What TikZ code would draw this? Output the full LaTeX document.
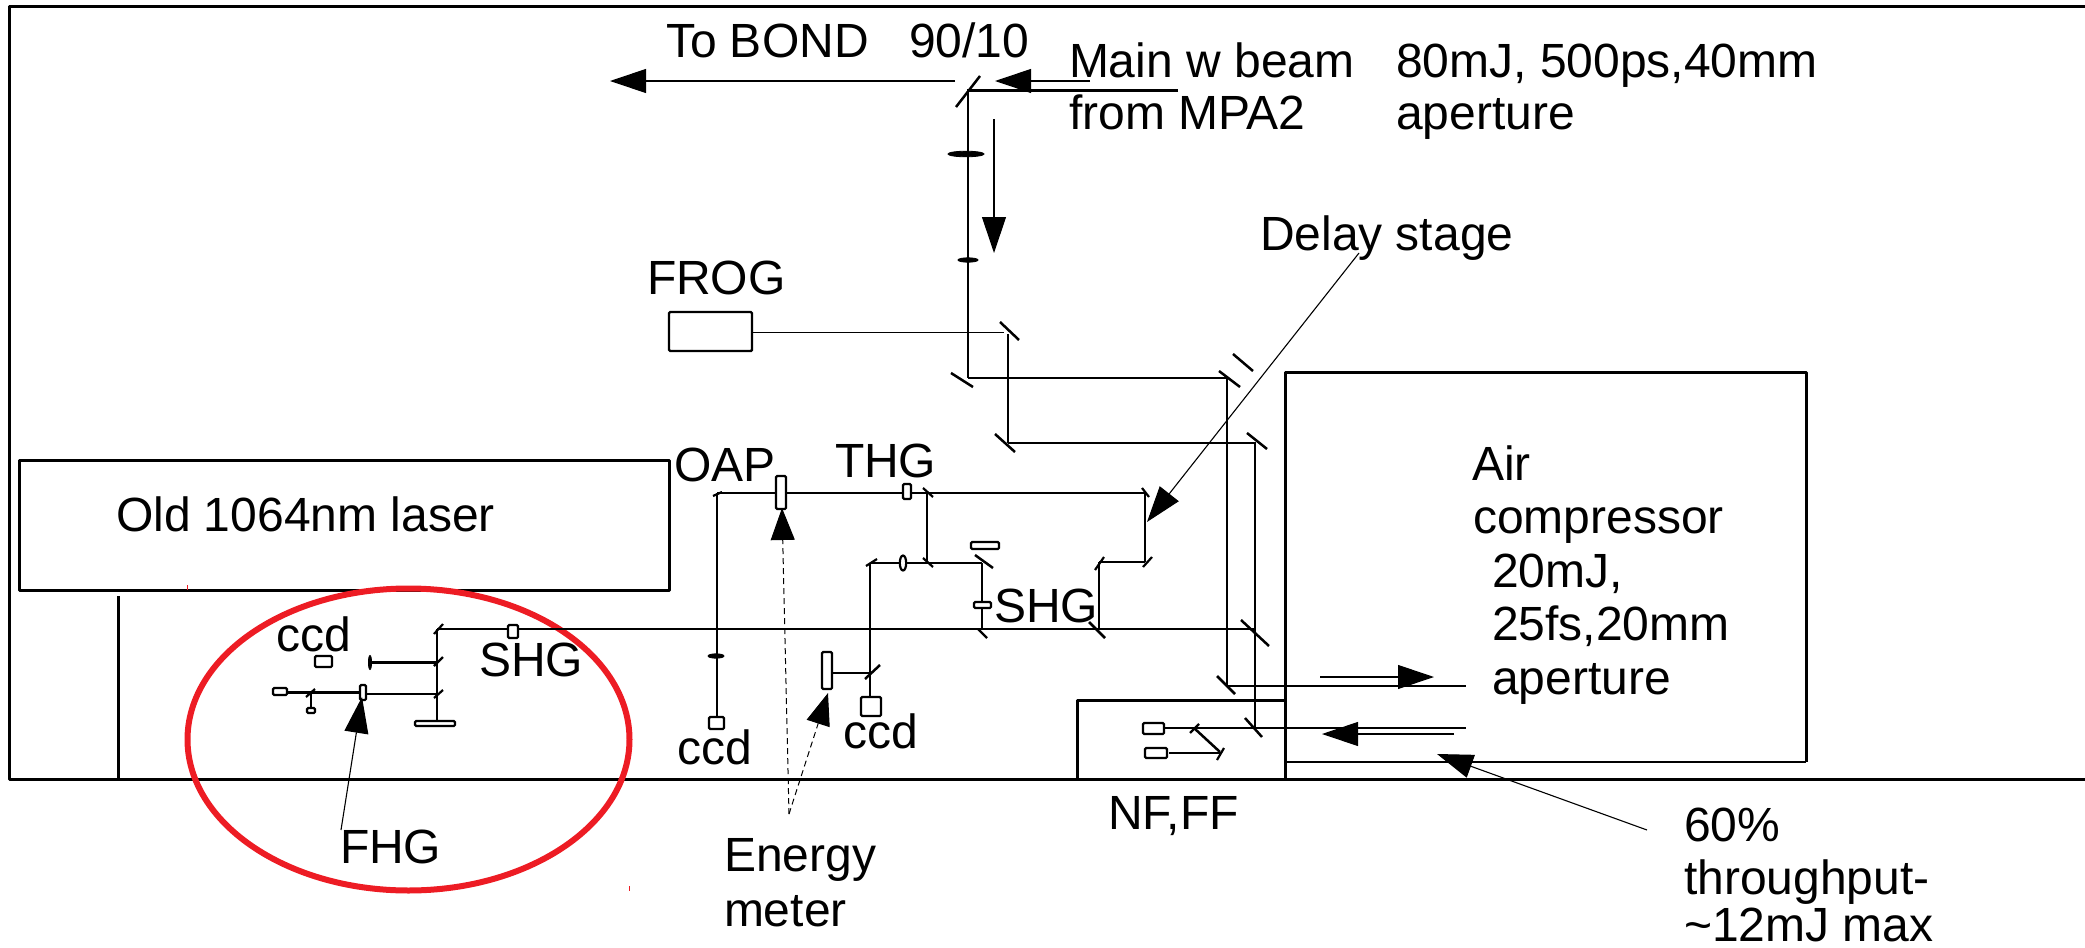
\documentclass[tikz,border=0pt]{standalone}
\usepackage{fontspec}
\setmainfont{Liberation Sans}
\usetikzlibrary{arrows.meta}
\definecolor{ringred}{HTML}{ED1C24}
\tikzset{
  lbl/.style={inner sep=0pt,outer sep=0pt,anchor=base west,font=\fontsize{24}{27}\selectfont},
  wall/.style={line width=1.5pt,line join=round,black},
  beamthick/.style={line width=1.45pt,black},
  beamthin/.style={line width=0.95pt,black},
  hair/.style={line width=0.55pt,black},
  mirror/.style={line width=1.25pt,black},
  tick/.style={line width=1.1pt,black},
  optic/.style={line width=1.1pt,draw=black,fill=white,rounded corners=0.6pt},
  lensf/.style={fill=black,draw=black,line width=0.4pt},
  bigtip/.style={-{Triangle[length=18pt,width=12pt]}},
  note/.style={hair,bigtip},
  dashnote/.style={line width=0.5pt,dash pattern=on 3pt off 2pt,black,-{Triangle[length=16pt,width=12pt]}}
}
\begin{document}
\begin{tikzpicture}[x=0.5pt,y=-0.5pt]
\useasboundingbox (0,0) rectangle (2085,948);

% frame and boxes
\draw[wall] (2085,6) -- (9,6) -- (9,779.5) -- (2085,779.5);
\draw[wall] (19,460) rectangle (669,590);
\draw[wall] (118,596) -- (118,779.5);
\draw[wall] (1077,779.5) -- (1077,700) -- (1285,700);
\draw[wall] (1285,779.5) -- (1285,372) -- (1806,372) -- (1806,762);
\draw[beamthin] (1806,762) -- (1285,762);

% red marks
\draw[ringred,line width=3pt] (408.5,739.5) ellipse [x radius=221,y radius=151];
\draw[ringred,line width=0.5pt] (187,585) -- (187,590);
\draw[ringred,line width=0.5pt] (629,886) -- (629,891);

% main beam
\draw[beamthick] (1178,90.5) -- (968,90.5) -- (968,378);
\draw[mirror] (956,107) -- (980,76);
\draw[lensf] (966,154) ellipse [x radius=18,y radius=2.8];
\draw[lensf] (968,260) ellipse [x radius=10,y radius=2.2];
\draw[note] (955,81) -- (610,81);
\draw[note] (1090,81) -- (995,81);
\draw[note] (994,119) -- (994,253);

% FROG
\draw[line width=1.2pt,rounded corners=0.6pt] (669,312) rectangle (752,351);
\draw[beamthin] (752,332.5) -- (1004,332.5);
\draw[mirror] (1000,322) -- (1019,340);
\draw[beamthin] (1008,334) -- (1008,443);

% second branch
\draw[mirror] (951,373) -- (973,387);
\draw[beamthin] (968,378) -- (1227,378) -- (1227,686) -- (1466,686);
\draw[mirror] (1219,371) -- (1240,387);
\draw[mirror] (1233,354) -- (1253,371);
\draw[mirror] (1217,676) -- (1235,694);

% thick delay branch
\draw[mirror] (995,434) -- (1015,452);
\draw[beamthick] (1008,443) -- (1255,443) -- (1255,728);
\draw[mirror] (1247,433) -- (1267,449);
\draw[mirror] (1241,620) -- (1269,646);
\draw[mirror] (1245,718) -- (1262,737);
\draw[beamthick] (437,629) -- (1255,629);

% NF,FF
\draw[beamthin] (1164,728) -- (1466,728);
\draw[hair] (1454,734) -- (1354,734);
\draw[hair,bigtip] (1380,734) -- (1322,734);
\draw[hair,bigtip] (1320,677) -- (1434,677);
\draw[optic] (1143,723) rectangle (1164,734);
\draw[optic] (1145,748) rectangle (1167,758);
\draw[beamthin] (1169,753) -- (1221,753);
\draw[mirror] (1194,728) -- (1220,752);
\draw[tick] (1190,733) -- (1199,724);
\draw[tick] (1217,760) -- (1224,748);

% air compressor output note
\draw[note] (1647,830) -- (1437,754);

% upper harmonic line
\draw[beamthick] (717,493) -- (1098,493);
\draw[beamthin] (1098,493) -- (1145,493) -- (1145,562);
\draw[beamthick] (1145,562) -- (1099,562);
\draw[beamthin] (1099,562) -- (1099,629);
\draw[tick] (1142,488) -- (1149,497);
\draw[tick] (1143,567) -- (1152,557);
\draw[tick] (1095,570) -- (1104,557);
\draw[mirror] (1089,622) -- (1105,638);
\draw[optic] (776,476) rectangle (786,509);
\draw[optic] (903,484) rectangle (911,499);
\draw[tick] (713,496) -- (722,492);

% ccd line at left of OAP
\draw[beamthin] (717,493) -- (717,717);
\draw[lensf] (716,656) ellipse [x radius=8,y radius=2.2];
\draw[optic] (709,717) rectangle (724,729);

% SHG sub-branch
\draw[tick] (923,488) -- (933,497);
\draw[beamthin] (927,493) -- (927,563);
\draw[tick] (923,558) -- (933,567);
\draw[beamthin] (870,563) -- (982,563);
\draw[optic] (903,563) ellipse [x radius=3.2,y radius=7.5];
\draw[mirror] (975,555) -- (993,568);
\draw[optic] (971,542) rectangle (999,549);
\draw[beamthick] (982,563) -- (982,629);
\draw[optic] (974,602) rectangle (991,608);
\draw[tick] (978,629) -- (987,638);
\draw[tick] (866,566) -- (877,559);
\draw[beamthin] (870,563) -- (870,697);
\draw[mirror] (865,679) -- (880,665);
\draw[beamthick] (832,673) -- (870,673);
\draw[optic] (822,652) rectangle (832,689);
\draw[optic] (861,697) rectangle (881,716);

% FHG area
\draw[beamthin] (437,629) -- (437,721);
\draw[tick] (434,634) -- (443,624);
\draw[optic] (508,625) rectangle (518,638);
\draw[beamthick] (370,662.5) -- (437,662.5);
\draw[tick] (434,666) -- (443,657);
\draw[lensf] (370,662.5) ellipse [x radius=1.6,y radius=7];
\draw[beamthick] (287,692.5) -- (360,692.5);
\draw[beamthick] (366,694) -- (437,694);
\draw[tick] (434,698) -- (443,690);
\draw[optic] (415,721) rectangle (455,726);
\draw[optic] (360,685) rectangle (366,700);
\draw[optic] (273,688) rectangle (287,695);
\draw[tick] (306,697) -- (315,689);
\draw[beamthin] (311,693) -- (311,709);
\draw[optic] (307,708) rectangle (315,713);
\draw[optic] (315,656) rectangle (332,667);
\draw[note] (341,830) -- (362,697);

% annotations
\draw[note] (1359,253) -- (1147,522);
\draw[dashnote] (789,814) -- (782,508);
\draw[dashnote] (789,814) -- (828,693);

% labels
\node[lbl] (tobond) at (666,57) {To BOND};
\node[lbl] (split) at (909,57) {90/10};
\node[lbl] (main1) at (1069,77) {Main w beam};
\node[lbl] (main2) at (1069,129) {from MPA2};
\node[lbl] (spec1) at (1396,77) {80mJ, 500ps,40mm};
\node[lbl] (spec2) at (1396,129) {aperture};
\node[lbl] (delay) at (1260,250) {Delay stage};
\node[lbl] (frog) at (647,294) {FROG};
\node[lbl] (oap) at (674,481) {OAP};
\node[lbl] (thg) at (835,477) {THG};
\node[lbl] (old) at (116,531) {Old 1064nm laser};
\node[lbl] (air1) at (1472,480) {Air};
\node[lbl] (air2) at (1473,533.5) {compressor};
\node[lbl] (air3) at (1492,587) {20mJ,};
\node[lbl] (air4) at (1492,640.5) {25fs,20mm};
\node[lbl] (air5) at (1492,694) {aperture};
\node[lbl] (shgm) at (994,622) {SHG};
\node[lbl] (shgl) at (479,676) {SHG};
\node[lbl] (ccda) at (276,651) {ccd};
\node[lbl] (fhg) at (340,863) {FHG};
\node[lbl] (ccdb) at (677,764) {ccd};
\node[lbl] (ccdc) at (843,748) {ccd};
\node[lbl] (nff) at (1108,829) {NF,FF};
\node[lbl] (en1) at (724,871) {Energy};
\node[lbl] (en2) at (724,926) {meter};
\node[lbl] (tp1) at (1684,841) {60\%};
\node[lbl] (tp2) at (1684,894) {throughput-};
\node[lbl] (tp3) at (1684,941) {\textasciitilde12mJ max};
\end{tikzpicture}
\end{document}
